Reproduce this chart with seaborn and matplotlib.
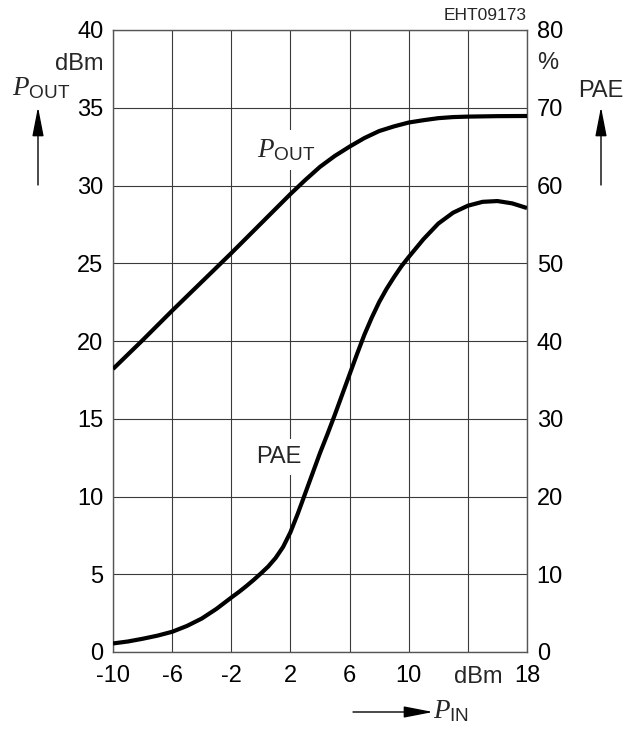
import matplotlib
matplotlib.use("Agg")
import matplotlib.pyplot as plt
import seaborn as sns
import pandas as pd

# ---- data ----
pin_pout = [-10, -8, -6, -4, -2, 0, 1, 2, 3, 4, 5, 6, 7, 8, 9,
            10, 11, 12, 13, 14, 16, 18]
pout_dbm = [18.2, 20.05, 21.95, 23.8, 25.65, 27.55, 28.5, 29.45, 30.35, 31.2, 31.9,
            32.5, 33.05, 33.5, 33.8, 34.05, 34.2, 34.33, 34.4, 34.43, 34.46, 34.47]

pin_pae = [-10, -9, -8, -7, -6, -5, -4, -3, -2, -1.5, -1, -0.5, 0, 0.5, 1, 1.5, 2, 2.5,
           3, 3.5, 4, 4.5, 5, 5.5, 6, 6.5, 7, 7.5, 8, 8.5, 9, 9.5, 10, 11, 12, 13, 14,
           15, 16, 17, 18]
pae_pct = [1.1, 1.35, 1.7, 2.1, 2.6, 3.35, 4.3, 5.55, 7.0, 7.7, 8.45, 9.25, 10.1, 11.0,
           12.1, 13.5, 15.4, 17.8, 20.4, 23.0, 25.6, 28.0, 30.5, 33.1, 35.7, 38.3, 40.8,
           43.0, 45.0, 46.7, 48.2, 49.6, 50.8, 53.1, 55.1, 56.5, 57.4, 57.9, 58.0, 57.7,
           57.1]

x_ticks = [-10, -6, -2, 2, 6, 10, 14, 18]
x_ticklabels = ["-10", "-6", "-2", "2", "6", "10", "", "18"]
y_left_ticks = [0, 5, 10, 15, 20, 25, 30, 35, 40]
y_right_ticks = [0, 10, 20, 30, 40, 50, 60, 70, 80]

sns.set_theme(style="white")
plt.rcParams["font.family"] = ["Liberation Sans", "DejaVu Sans"]
plt.rcParams["mathtext.fontset"] = "custom"
plt.rcParams["mathtext.it"] = "Liberation Serif:italic"
plt.rcParams["mathtext.rm"] = "Liberation Sans"

W, H = 638, 729
fig = plt.figure(figsize=(W / 100, H / 100), dpi=100)
ax = fig.add_axes([113 / W, 1 - 652 / H, 414 / W, 622 / H])

df1 = pd.DataFrame({"pin": pin_pout, "pout": pout_dbm})
df2 = pd.DataFrame({"pin": pin_pae, "pae": pae_pct})

sns.lineplot(data=df1, x="pin", y="pout", ax=ax, color="black", lw=3.0,
             zorder=6, solid_joinstyle="round", solid_capstyle="butt")
ax.set_xlim(-10, 18)
ax.set_ylim(0, 40)
ax.set_xticks(x_ticks)
ax.set_xticklabels(x_ticklabels)
ax.set_yticks(y_left_ticks)
ax.set_xlabel("")
ax.set_ylabel("")
ax.grid(True, color="#3a3a3a", lw=0.8)
ax.set_axisbelow(True)
ax.tick_params(axis="both", length=0, labelsize=17, colors="black")
ax.tick_params(axis="y", pad=7)
ax.tick_params(axis="x", pad=9.5)
for s in ax.spines.values():
    s.set_color("#555555")
    s.set_linewidth(1.0)

ax2 = ax.twinx()
sns.lineplot(data=df2, x="pin", y="pae", ax=ax2, color="black", lw=3.0,
             solid_joinstyle="round", solid_capstyle="butt")
ax2.set_ylim(0, 80)
ax2.set_yticks(y_right_ticks)
ax2.set_ylabel("")
ax2.grid(False)
ax2.tick_params(axis="y", length=0, labelsize=17, pad=7, colors="black")
for s in ax2.spines.values():
    s.set_visible(False)

def fx(px):
    return px / W

def fy(py):
    return 1 - py / H

# axis unit labels
fig.text(fx(103), fy(64), "dBm", ha="right", va="center", fontsize=17)
fig.text(fx(537), fy(63), "%", ha="left", va="center", fontsize=17)
fig.text(fx(527), fy(15), "EHT09173", ha="right", va="center", fontsize=12.5)
fig.text(fx(503), fy(683), "dBm", ha="right", va="baseline", fontsize=17)

# axis titles
fig.text(fx(12), fy(95), r"$\mathit{P}_{\mathrm{OUT}}$", ha="left", va="baseline", fontsize=19.5)
fig.text(fx(601), fy(91), "PAE", ha="center", va="center", fontsize=17)
fig.text(fx(433), fy(718), r"$\mathit{P}_{\mathrm{IN}}$", ha="left", va="baseline", fontsize=19.5)

arrow = dict(arrowstyle="-|>,head_length=1.8,head_width=0.35", mutation_scale=10,
             lw=1.0, color="black", shrinkA=0, shrinkB=0)
ax.annotate("", xy=(38, H - 107), xytext=(38, H - 185), xycoords="figure pixels",
            textcoords="figure pixels", arrowprops=arrow, annotation_clip=False)
ax.annotate("", xy=(601, H - 107), xytext=(601, H - 185), xycoords="figure pixels",
            textcoords="figure pixels", arrowprops=arrow, annotation_clip=False)
ax.annotate("", xy=(433, H - 712), xytext=(353, H - 712), xycoords="figure pixels",
            textcoords="figure pixels", arrowprops=arrow, annotation_clip=False)

# curve labels inside plot
box = dict(facecolor="white", edgecolor="none", pad=5)
ax.text(1.7, 32.3, r"$\mathit{P}_{\mathrm{OUT}}$", ha="center", va="center",
        fontsize=19.5, bbox=box, zorder=5)
ax.text(1.19, 12.54, "PAE", ha="center", va="center", fontsize=17, bbox=box, zorder=5)

fig.savefig("out.png", dpi=100)
